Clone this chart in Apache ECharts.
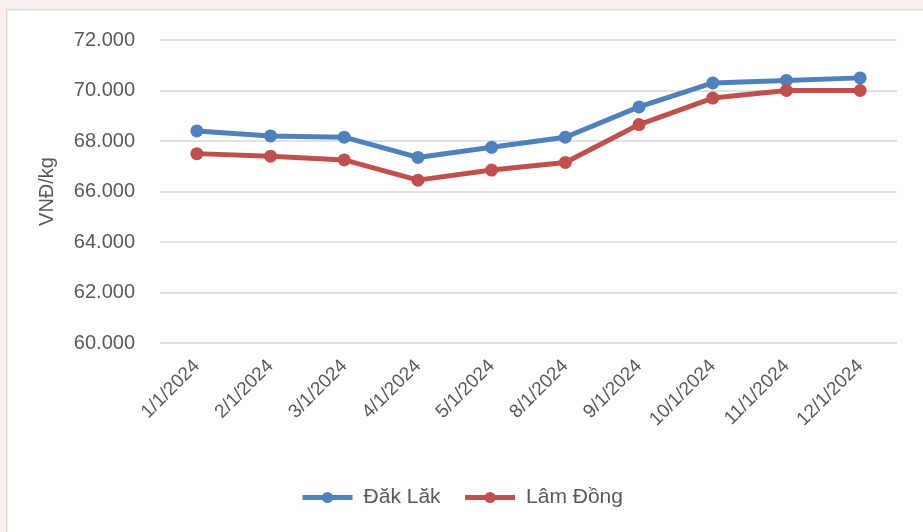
<!DOCTYPE html>
<html>
<head>
<meta charset="utf-8">
<script src="https://cdn.jsdelivr.net/npm/echarts@6/dist/echarts.min.js"></script>
<style>
  html, body { margin: 0; padding: 0; background: #f9efed; }
  #chart { width: 923px; height: 532px; }
</style>
</head>
<body>
<div id="chart"></div>
<script>
// danh mục tháng
var categories = ["1/1/2024", "2/1/2024", "3/1/2024", "4/1/2024", "5/1/2024",
  "8/1/2024", "9/1/2024", "10/1/2024", "11/1/2024", "12/1/2024"];
// giá cà phê (VNĐ/kg)
var dakLak = [68400, 68200, 68150, 67350, 67750, 68150, 69350, 70300, 70400, 70500];
var lamDong = [67500, 67400, 67250, 66450, 66850, 67150, 68650, 69700, 70000, 70000];
var yTicks = { min: 60000, max: 72000, step: 2000 };

var fontFamily = "'Liberation Sans', Arial, sans-serif";
var textColor = "#595959";

var myChart = echarts.init(document.getElementById("chart"));

function makeSeries(name, data, color) {
  return {
    name: name,
    type: "line",
    data: data,
    symbol: "circle",
    symbolSize: 13,
    lineStyle: { width: 5, color: color },
    itemStyle: { color: color },
    emphasis: { disabled: true }
  };
}

var option = {
  backgroundColor: "#f9efed",
  animation: false,
  textStyle: { fontFamily: fontFamily },
  graphic: [{
    type: "rect",
    left: 6,
    top: 9,
    shape: { width: 930, height: 540 },
    style: { fill: "#ffffff", stroke: "#d9d9d9", lineWidth: 1.5 },
    z: -10
  }],
  grid: { left: 160, right: 26, top: 40, bottom: 189 },
  legend: {
    bottom: 19,
    left: "center",
    itemWidth: 50,
    itemHeight: 14,
    itemGap: 22,
    lineStyle: { width: 5 },
    textStyle: { fontSize: 21, color: textColor, fontFamily: fontFamily, padding: [0, 0, 0, 6] },
    data: ["Đăk Lăk", "Lâm Đồng"]
  },
  xAxis: {
    type: "category",
    data: categories,
    boundaryGap: true,
    axisLine: { show: false },
    axisTick: { show: false },
    axisLabel: {
      rotate: 45,
      interval: 0,
      margin: 20,
      fontSize: 19,
      color: textColor,
      fontFamily: fontFamily
    }
  },
  yAxis: {
    type: "value",
    min: yTicks.min,
    max: yTicks.max,
    interval: yTicks.step,
    name: "VNĐ/kg",
    nameLocation: "middle",
    nameGap: 103,
    nameTextStyle: { fontSize: 20, color: textColor, fontFamily: fontFamily },
    axisLine: { show: false },
    axisTick: { show: false },
    splitLine: { lineStyle: { color: "#d9d9d9", width: 1.5 } },
    axisLabel: {
      margin: 25,
      fontSize: 20,
      color: textColor,
      fontFamily: fontFamily,
      formatter: function (v) {
        return String(v).replace(/\B(?=(\d{3})+(?!\d))/g, ".");
      }
    }
  },
  series: [
    makeSeries("Đăk Lăk", dakLak, "#4f81bd"),
    makeSeries("Lâm Đồng", lamDong, "#c0504d")
  ]
};

myChart.setOption(option);
</script>
</body>
</html>
